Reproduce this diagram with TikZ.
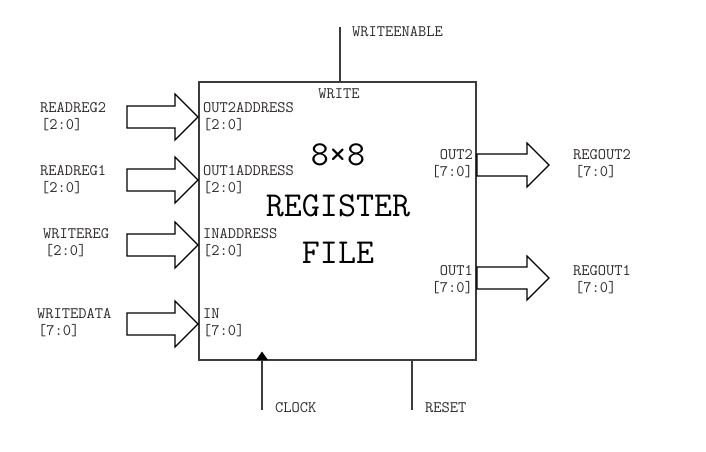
\documentclass[tikz,border=0pt]{standalone}
\usepackage{fontspec}
\usetikzlibrary{arrows.meta}
\definecolor{txt}{RGB}{45,40,40}
\definecolor{ln}{RGB}{60,60,60}
\tikzset{
  lbl/.style={anchor=base west,inner sep=0pt,text=txt,font=\ttfamily\fontsize{16}{19}\selectfont},
  lblr/.style={lbl,anchor=base east},
  lblc/.style={lbl,anchor=base},
  big/.style={anchor=base,inner sep=0pt,text=black,font=\ttfamily\fontsize{35}{40}\selectfont},
  busarrow/.style={draw=black,line width=1.1pt,fill=white,line join=miter},
  wire/.style={draw=ln,line width=1.1pt},
}
\begin{document}
\begin{tikzpicture}[x=1pt,y=-1pt]
\useasboundingbox (0,0) rectangle (706,451);
% register file box
\node[draw=ln,line width=1.1pt,minimum width=277pt,minimum height=278pt,inner sep=0pt] (rf) at (337.5,221) {};
% write enable
\coordinate (we) at (340,27);
\draw[wire] (we) -- (we |- rf.north);
\node[lbl] (wel) at (352,36) {WRITEENABLE};
\node[lblc] (wrl) at (339,98) {WRITE};
% left bus arrows (tip at box)
\foreach \y/\n in {117/a,180/b,245/c,324/d}{
  \coordinate (tip\n) at (198,\y);
  \draw[busarrow] (tip\n) -- ++(-23,-23) -- ++(0,12) -- ++(-48,0) -- ++(0,22) -- ++(48,0) -- ++(0,12) -- cycle;
}
% right bus arrows
\foreach \y/\n in {165/e,278/f}{
  \coordinate (tip\n) at (549,\y);
  \draw[busarrow] (tip\n) -- ++(-22,-22) -- ++(0,11) -- ++(-50,0) -- ++(0,22) -- ++(50,0) -- ++(0,11) -- cycle;
}
% left labels
\node[lbl] (l1) at (40,112) {READREG2};
\node[lbl] (l1b) at (41,129) {[2:0]};
\node[lbl] (l2) at (40,175) {READREG1};
\node[lbl] (l2b) at (41,192) {[2:0]};
\node[lbl] (l3) at (43,238) {WRITEREG};
\node[lbl] (l3b) at (45,255) {[2:0]};
\node[lbl] (l4) at (37,318) {WRITEDATA};
\node[lbl] (l4b) at (38,335) {[7:0]};
% inner left labels
\node[lbl] (i1) at (203,112) {OUT2ADDRESS};
\node[lbl] (i1b) at (203,129) {[2:0]};
\node[lbl] (i2) at (203,175) {OUT1ADDRESS};
\node[lbl] (i2b) at (203,192) {[2:0]};
\node[lbl] (i3) at (203,238) {INADDRESS};
\node[lbl] (i3b) at (203,255) {[2:0]};
\node[lbl] (i4) at (203,318) {IN};
\node[lbl] (i4b) at (203,335) {[7:0]};
% inner right labels
\node[lblr] (o2) at (473,159) {OUT2};
\node[lblr] (o2b) at (473,176) {[7:0]};
\node[lblr] (o1) at (473,275) {OUT1};
\node[lblr] (o1b) at (473,292) {[7:0]};
% outer right labels
\node[lbl] (r2) at (573,159) {REGOUT2};
\node[lbl] (r2b) at (575,176) {[7:0]};
\node[lbl] (r1) at (573,275) {REGOUT1};
\node[lbl] (r1b) at (575,292) {[7:0]};
% title
\node[big] (t1) at (338,165) {8×8};
\node[big] (t2) at (338,216) {REGISTER};
\node[big] (t3) at (338,263) {FILE};
% clock and reset
\coordinate (clk) at (262,410);
\draw[wire] (clk) -- (clk |- rf.south);
\fill[black] (256,360) -- (268,360) -- (262,351.5) -- cycle;
\node[lbl] (clkl) at (275,412) {CLOCK};
\coordinate (rst) at (412,410);
\draw[wire] (rst) -- (rst |- rf.south);
\node[lbl] (rstl) at (425,412) {RESET};
\end{tikzpicture}
\end{document}
